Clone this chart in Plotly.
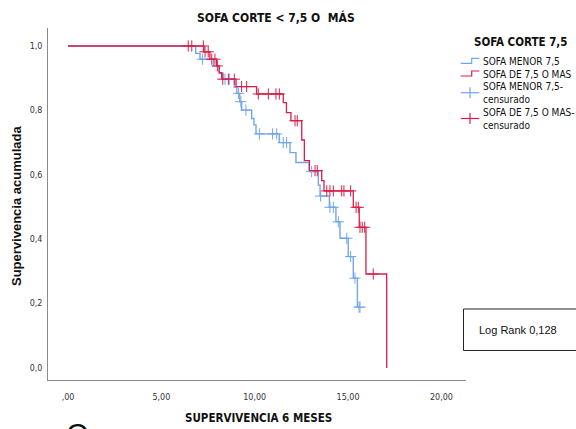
import plotly.graph_objects as go

# ---------------- data ----------------
blue_t = [0, 6.84, 7.07, 7.79, 8.10, 8.30, 8.91, 9.04, 9.20, 9.30, 9.84, 9.96, 10.07,
          11.32, 11.89, 12.21, 12.92, 13.41, 13.50, 14.00, 14.35, 14.57, 15.01, 15.28,
          15.50, 15.64]
blue_s = [1.0, 0.977, 0.959, 0.938, 0.916, 0.897, 0.872, 0.853, 0.827, 0.801, 0.775,
          0.755, 0.727, 0.700, 0.669, 0.638, 0.610, 0.568, 0.534, 0.499, 0.454, 0.403,
          0.346, 0.279, 0.189, 0.189]
blue_cens_t = [7.20, 8.41, 8.64, 9.14, 9.26, 9.53, 10.25, 10.96, 11.18, 11.53, 11.71,
               13.05, 13.53, 14.03, 14.21, 14.48, 14.93, 15.14, 15.37, 15.59, 15.64]
blue_cens_s = [0.959, 0.897, 0.897, 0.853, 0.827, 0.801, 0.727, 0.727, 0.727, 0.700,
               0.700, 0.610, 0.534, 0.499, 0.499, 0.454, 0.403, 0.346, 0.279, 0.189,
               0.189]

red_t = [0, 7.28, 7.60, 7.96, 8.10, 8.23, 9.00, 10.10, 11.53, 11.70, 11.94, 12.52,
         12.66, 12.93, 13.59, 13.71, 15.28, 15.60, 15.96, 17.07]
red_s = [1.0, 0.982, 0.959, 0.938, 0.917, 0.897, 0.874, 0.851, 0.824, 0.793, 0.768,
         0.708, 0.644, 0.613, 0.582, 0.550, 0.499, 0.437, 0.292, 0.0]
red_cens_t = [6.44, 6.63, 7.25, 7.34, 7.51, 7.70, 7.87, 8.00, 8.29, 8.59, 8.91, 9.30,
              9.57, 10.19, 10.73, 11.14, 11.32, 12.16, 12.28, 13.23, 13.35, 13.86,
              14.03, 14.21, 14.66, 14.78, 15.14, 15.43, 15.55, 15.64, 15.76, 15.89,
              16.35]
red_cens_s = [1.0, 1.0, 1.0, 0.982, 0.982, 0.959, 0.959, 0.938, 0.897, 0.897, 0.897,
              0.874, 0.874, 0.851, 0.851, 0.851, 0.851, 0.768, 0.768, 0.613, 0.613,
              0.550, 0.550, 0.550, 0.550, 0.550, 0.550, 0.499, 0.499, 0.437, 0.437,
              0.437, 0.292]

x_tickvals = [0, 5, 10, 15, 20]
x_ticktext = [",00", "5,00", "10,00", "15,00", "20,00"]
y_tickvals = [0, 0.2, 0.4, 0.6, 0.8, 1.0]
y_ticktext = ["0,0", "0,2", "0,4", "0,6", "0,8", "1,0"]

series_names = ["SOFA MENOR 7,5", "SOFA DE 7,5 O MAS",
                "SOFA MENOR 7,5-<br>censurado", "SOFA DE 7,5 O MAS-<br>censurado"]

BLUE = "#72A6EA"
RED = "#DA1E4A"
W, H = 576, 429
L, R, T, B = 48, 110, 28, 49
PW, PH = W - L - R, H - T - B

NARROW = "DejaVu Sans Condensed, Liberation Sans Narrow, Arial Narrow, sans-serif"


def pxx(x):
    return (x - L) / PW


def pxy(y):
    return (H - B - y) / PH


fig = go.Figure()
fig.add_trace(go.Scatter(x=blue_t, y=blue_s, mode="lines", line_shape="hv",
                         line=dict(color=BLUE, width=1.4), showlegend=False))
fig.add_trace(go.Scatter(x=red_t, y=red_s, mode="lines", line_shape="hv",
                         line=dict(color=RED, width=1.3), showlegend=False))
fig.add_trace(go.Scatter(x=blue_cens_t, y=blue_cens_s, mode="markers",
                         marker=dict(symbol="cross-thin", size=8,
                                     line=dict(color=BLUE, width=1)),
                         showlegend=False))
fig.add_trace(go.Scatter(x=red_cens_t, y=red_cens_s, mode="markers",
                         marker=dict(symbol="cross-thin", size=8,
                                     line=dict(color=RED, width=1)),
                         showlegend=False))

x0 = -20 / 18.67
x1 = x0 + PW / 18.67
y1 = (368 - T) / 322
y0 = (368 - (H - B)) / 322

fig.update_xaxes(range=[x0, x1], tickvals=x_tickvals, ticktext=x_ticktext,
                 showgrid=False, zeroline=False, showline=True, linecolor="#8a8a8a",
                 linewidth=1, ticks="", ticklabelstandoff=9,
                 tickfont=dict(family="DejaVu Sans", size=8, color="#333"))
fig.update_yaxes(range=[y0, y1], tickvals=y_tickvals, ticktext=y_ticktext,
                 showgrid=False, zeroline=False, showline=True, linecolor="#8a8a8a",
                 linewidth=1, ticks="", ticklabelstandoff=3,
                 tickfont=dict(family="DejaVu Sans", size=8, color="#333"))

shapes = []
# legend step icons
for col, lo, hi in [(BLUE, 63.3, 58.3), (RED, 76.0, 71.0)]:
    path = (f"M {pxx(460.7)},{pxy(lo)} L {pxx(471.7)},{pxy(lo)} "
            f"L {pxx(471.7)},{pxy(hi)} L {pxx(479.3)},{pxy(hi)}")
    shapes.append(dict(type="path", xref="paper", yref="paper", path=path,
                       line=dict(color=col, width=1.2)))
# legend censor crosses
for col, cy in [(BLUE, 92.7), (RED, 118.5)]:
    shapes.append(dict(type="line", xref="paper", yref="paper",
                       x0=pxx(460.7), x1=pxx(479.3), y0=pxy(cy), y1=pxy(cy),
                       line=dict(color=col, width=1.2)))
    shapes.append(dict(type="line", xref="paper", yref="paper",
                       x0=pxx(470), x1=pxx(470), y0=pxy(cy - 5.5), y1=pxy(cy + 5.5),
                       line=dict(color=col, width=1.2)))
# log rank box
shapes.append(dict(type="rect", xref="paper", yref="paper",
                   x0=pxx(463.5), x1=pxx(590), y0=pxy(309), y1=pxy(350.5),
                   line=dict(color="#222", width=1)))

ann = []
ann.append(dict(text="<b>SOFA CORTE &lt; 7,5 O  MÁS</b>", x=pxx(276), y=pxy(17),
                font=dict(family=NARROW, size=12, color="#111")))
ann.append(dict(text="<b>SUPERVIVENCIA 6 MESES</b>", x=pxx(258), y=pxy(418),
                font=dict(family=NARROW, size=11.5, color="#111")))
ann.append(dict(text="<b>Supervivencia acumulada</b>", x=pxx(17), y=pxy(206),
                textangle=-90, font=dict(family="Liberation Sans", size=13,
                                         color="#111")))
ann.append(dict(text="<b>SOFA CORTE 7,5</b>", x=pxx(472), y=pxy(41.7), xanchor="left",
                font=dict(family=NARROW, size=11.5, color="#111")))
for txt, cy in [(series_names[0], 62.0), (series_names[1], 74.0)]:
    ann.append(dict(text=txt, x=pxx(481), y=pxy(cy), xanchor="left",
                    font=dict(family=NARROW, size=10, color="#111")))
for txt, cy in [(series_names[2], 93.5), (series_names[3], 119.5)]:
    ann.append(dict(text=txt, x=pxx(481), y=pxy(cy), xanchor="left", align="left",
                    font=dict(family=NARROW, size=10, color="#111")))
ann.append(dict(text="Log Rank 0,128", x=pxx(518), y=pxy(330),
                font=dict(family="Liberation Sans", size=11, color="#111")))
ann.append(dict(text="C", x=pxx(64), y=pxy(415), xanchor="left", yanchor="top",
                font=dict(family="Liberation Sans", size=30, color="#111")))
for a in ann:
    a.update(xref="paper", yref="paper", showarrow=False)
    a.setdefault("xanchor", "center")
    a.setdefault("yanchor", "middle")

fig.update_layout(width=W, height=H, margin=dict(l=L, r=R, t=T, b=B),
                  plot_bgcolor="white", paper_bgcolor="white",
                  shapes=shapes, annotations=ann, showlegend=False)

fig.write_html("out.html")
